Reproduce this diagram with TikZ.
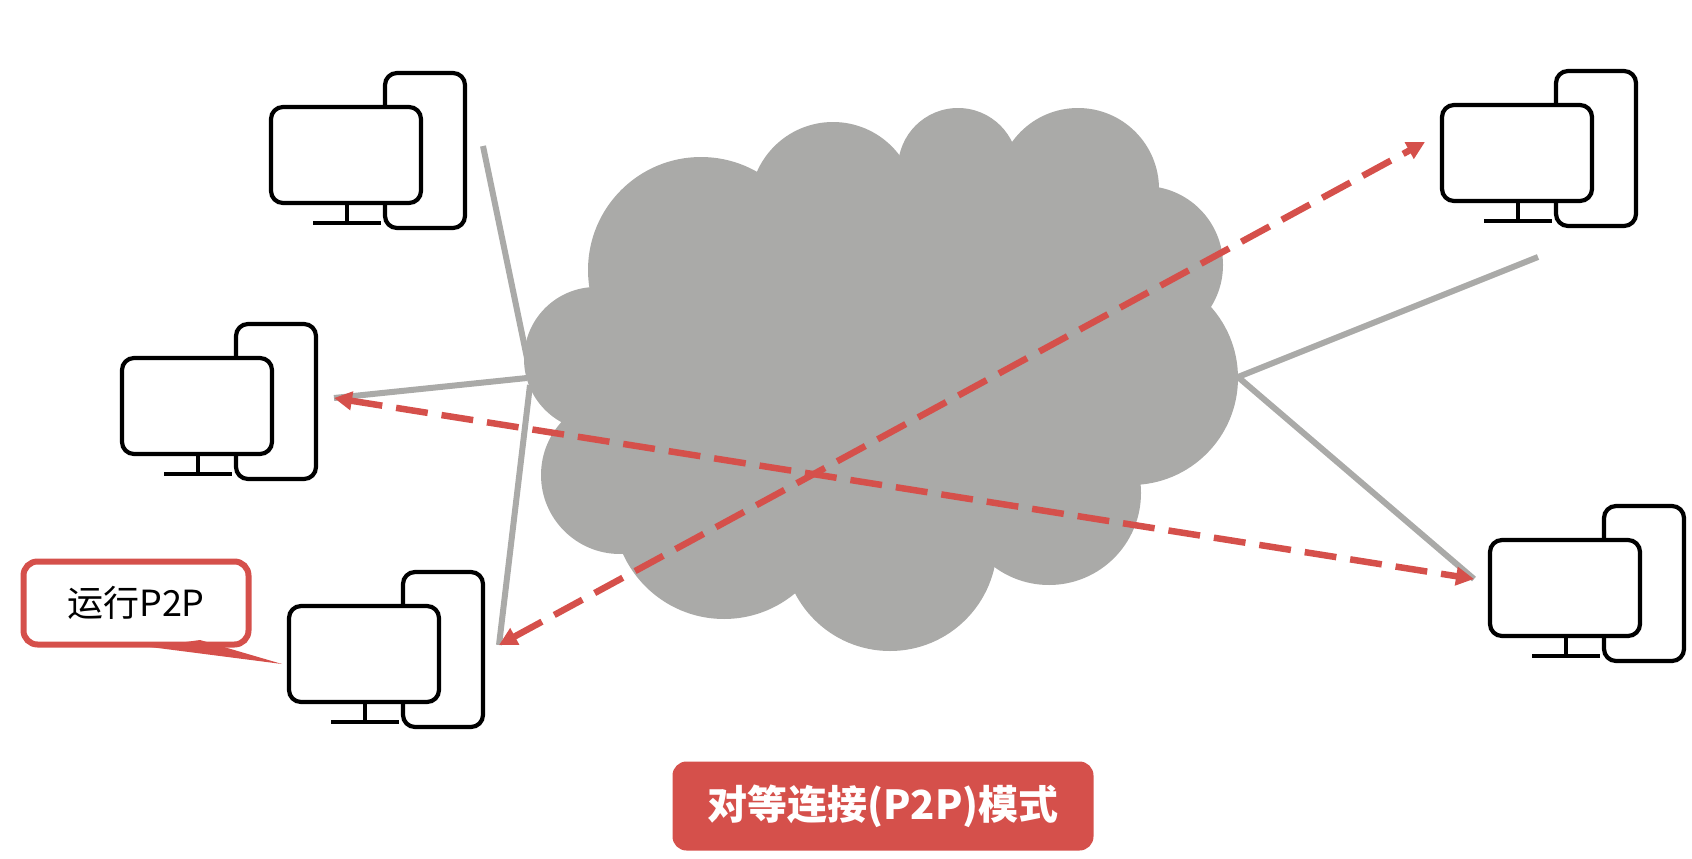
\documentclass[tikz,border=0pt]{standalone}
\usepackage{fontspec}
\setmainfont{Noto Sans CJK SC}
\usetikzlibrary{arrows.meta}
\definecolor{cloudgray}{HTML}{AAAAA8}
\definecolor{redline}{HTML}{D5504B}
\tikzset{
  pics/computer/.style={code={
    \draw[pcline,fill=white] (114,-34) [rounded corners=12] rectangle (194,121);
    \draw[pcline,fill=white] (0,0) [rounded corners=12] rectangle (150,96);
    \draw[pcline] (76,96) -- (76,116);
    \draw[pcline] (42,116) -- (110,116);
  }},
  pcline/.style={draw=black,line width=4.2pt},
  puff/.style={fill=cloudgray,draw=none},
  grayline/.style={draw=cloudgray,line width=6pt},
  redarrow/.style={draw=redline,line width=6.5pt,dash pattern=on 32pt off 14pt,
    {Triangle[length=18pt,width=18pt]}-{Triangle[length=18pt,width=18pt]}},
}
\begin{document}
\begin{tikzpicture}[x=1pt,y=-1pt]
  \useasboundingbox (0,0) rectangle (1692,859);
  % cloud
  \fill[puff] (701,270) circle (113);
  \fill[puff] (833,205) circle (83);
  \fill[puff] (958,168) circle (60);
  \fill[puff] (1078,189) circle (81);
  \fill[puff] (1144,265) circle (79);
  \fill[puff] (1131,378) circle (107);
  \fill[puff] (1049,493) circle (92);
  \fill[puff] (890,544) circle (107);
  \fill[puff] (724,508) circle (111);
  \fill[puff] (620,475) circle (79);
  \fill[puff] (596,359) circle (72);
  \fill[puff] (880,370) ellipse (290 and 200);
  % computers
  \pic (pctop) at (271,107) {computer};
  \pic (pcmid) at (122,358) {computer};
  \pic (pcbot) at (289,606) {computer};
  \pic (pcright) at (1442,105) {computer};
  \pic (pclow) at (1490,540) {computer};
  % line ends
  \coordinate (hubupper) at (527,358);
  \coordinate (hubleft) at (527,378);
  \coordinate (hublower) at (530,385);
  \coordinate (hubright) at (1238,377);
  \coordinate (endtop) at (483,146);
  \coordinate (endmid) at (334,398);
  \coordinate (endbot) at (499,645);
  \coordinate (endright) at (1538,257);
  \coordinate (endlow) at (1474,579);
  \coordinate (tipright) at (1425,142);
  \draw[grayline] (hubupper) -- (endtop);
  \draw[grayline] (hubleft) -- (endmid);
  \draw[grayline] (hublower) -- (endbot);
  \draw[grayline] (hubright) -- (endright);
  \draw[grayline] (hubright) -- (endlow);
  \draw[redarrow] (endbot) -- (tipright);
  \draw[redarrow] (endmid) -- (endlow);
  % labels
  \coordinate (tailtip) at (282,664);
  \node[draw=redline,line width=6pt,rounded corners=14,fill=white,minimum width=225pt,
    minimum height=83pt,font=\fontsize{36}{40}\selectfont] (callout) at (136,603) {运行P2P};
  \fill[redline] (150,647) -- (tailtip) -- (200,640) -- cycle;
  \node[fill=redline,rounded corners=14,minimum width=421pt,minimum height=89pt,text=white,
    font=\fontsize{40}{46}\selectfont\bfseries] (title) at (883,806) {对等连接(P2P)模式};
\end{tikzpicture}
\end{document}
